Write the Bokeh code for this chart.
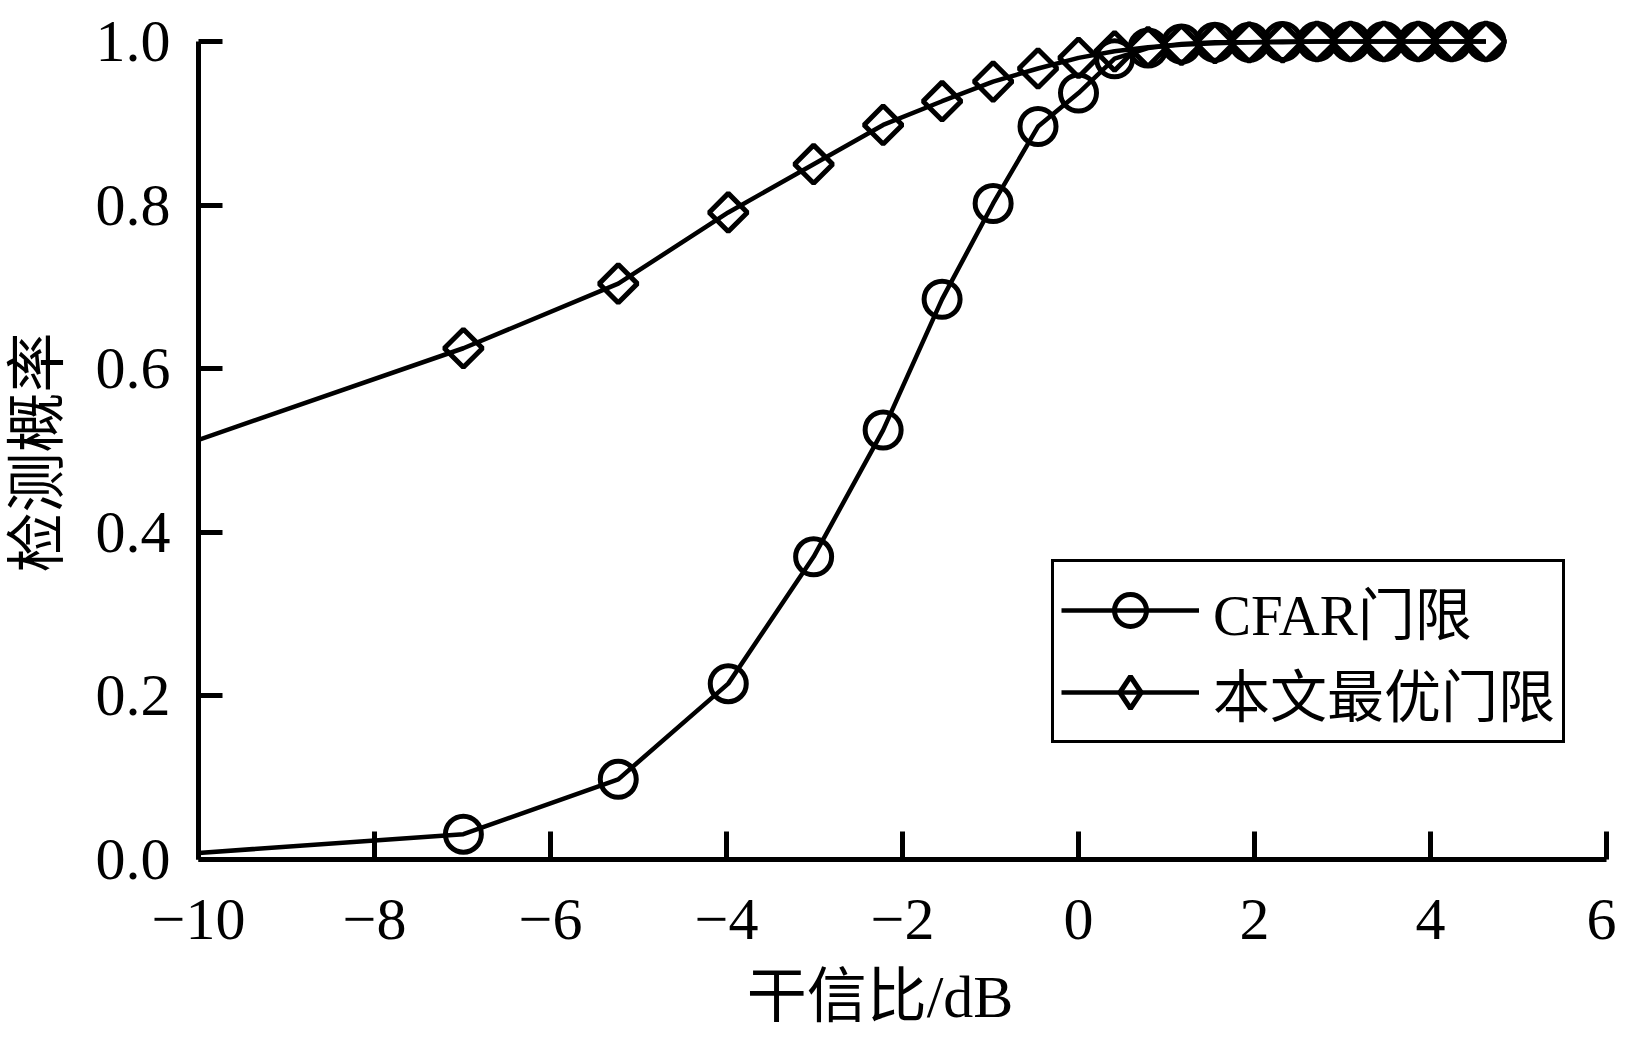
import math
from bokeh.plotting import figure
from bokeh.models import (FixedTicker, CustomJSTickFormatter, Legend, LegendItem, Range1d)
from bokeh.embed import file_html
from bokeh.resources import INLINE

# ---- data ----
jsr_db = [-10.0, -6.99, -5.23, -3.98, -3.01, -2.22, -1.55, -0.97, -0.46, 0.0,
          0.41, 0.79, 1.17, 1.55, 1.94, 2.32, 2.71, 3.09, 3.47, 3.86, 4.24, 4.63]
pd_cfar = [0.008, 0.031, 0.098, 0.215, 0.370, 0.525, 0.685, 0.802, 0.896, 0.937,
           0.979, 0.992, 0.997, 0.999, 0.999, 1.0, 1.0, 1.0, 1.0, 1.0, 1.0, 1.0]
pd_opt = [0.513, 0.625, 0.704, 0.791, 0.850, 0.898, 0.927, 0.951, 0.967, 0.980,
          0.988, 0.993, 0.996, 0.998, 0.999, 0.999, 1.0, 1.0, 1.0, 1.0, 1.0, 1.0]
series_names = ["CFAR门限", "本文最优门限"]
x_ticks = [-10, -8, -6, -4, -2, 0, 2, 4, 6]
y_ticks = [0.0, 0.2, 0.4, 0.6, 0.8, 1.0]
x_label = "干信比/dB"
y_label = "检测概率"

FONT = "'Liberation Serif', 'Noto Sans CJK SC'"
NBSP = "\u00a0"

# frame: y = 0..1 spans 818 px, with 41 px of head room above 1.0 (axis stops at 1.0)
p = figure(width=1616, height=1036, output_backend="svg", toolbar_location=None,
           x_range=Range1d(-10, 6), y_range=Range1d(0, 1 + 41 / 818),
           min_border_left=198, min_border_right=10, min_border_top=0,
           min_border_bottom=177)
p.outline_line_color = None
p.grid.visible = False
p.background_fill_color = "white"
p.border_fill_color = "white"

# CFAR series (circles)
l1 = p.line(jsr_db, pd_cfar, line_color="black", line_width=4.5)
s1 = p.scatter(jsr_db[1:], pd_cfar[1:], marker="circle", size=36,
               line_color="black", line_width=5, fill_alpha=0)
# optimal threshold series (diamonds)
l2 = p.line(jsr_db, pd_opt, line_color="black", line_width=4.5)
s2 = p.scatter(jsr_db[1:], pd_opt[1:], marker="square", size=27, angle=math.pi / 4,
               line_color="black", line_width=5, fill_alpha=0)
# legend-only glyph for the diamond marker (no visible point)
s2_leg = p.scatter(x=[float("nan")], y=[float("nan")], marker="diamond",
                   line_color="black", line_width=5, fill_alpha=0)

for ax in (p.xaxis[0], p.yaxis[0]):
    ax.axis_line_width = 5
    ax.axis_line_color = "black"
    ax.major_tick_line_width = 5
    ax.major_tick_line_color = "black"
    ax.major_tick_out = 0
    ax.minor_tick_in = 0
    ax.minor_tick_out = 0
    ax.major_label_text_font = FONT
    ax.major_label_text_font_size = "60px"
    ax.major_label_text_color = "black"
    ax.axis_label_text_font = FONT
    ax.axis_label_text_font_size = "60px"
    ax.axis_label_text_font_style = "normal"
    ax.axis_label_text_color = "black"

p.yaxis.bounds = (0, 1)
p.xaxis.ticker = FixedTicker(ticks=x_ticks, minor_ticks=[])
p.yaxis.ticker = FixedTicker(ticks=y_ticks, minor_ticks=[])
p.xaxis.major_tick_in = 28
p.yaxis.major_tick_in = 24
p.xaxis.major_label_standoff = 40
p.yaxis.major_label_standoff = 28
p.xaxis.axis_label_standoff = 22
p.yaxis.axis_label_standoff = 22
p.xaxis.formatter = CustomJSTickFormatter(
    code="return tick < 0 ? '\u2212' + Math.abs(tick) : String(tick);")
p.yaxis.formatter = CustomJSTickFormatter(code="return tick.toFixed(1);")
# trailing no-break spaces nudge the titles to where the reference has them
p.xaxis.axis_label = x_label + NBSP * 3
p.yaxis.axis_label = y_label + NBSP * 3

legend = Legend(items=[LegendItem(label=series_names[0], renderers=[l1, s1]),
                       LegendItem(label=series_names[1], renderers=[l2, s2_leg])],
                location=(853, 116))
legend.label_text_font = FONT
legend.label_text_font_size = "57px"
legend.label_text_color = "black"
legend.glyph_width = 138
legend.glyph_height = 80
legend.label_height = 70
legend.label_standoff = 14
legend.spacing = 0
legend.padding = 7
legend.margin = 0
legend.border_line_color = "black"
legend.border_line_alpha = 1
legend.border_line_width = 3.5
legend.background_fill_color = "white"
legend.background_fill_alpha = 1
p.add_layout(legend)

open("out.html", "w").write(file_html(p, INLINE))
